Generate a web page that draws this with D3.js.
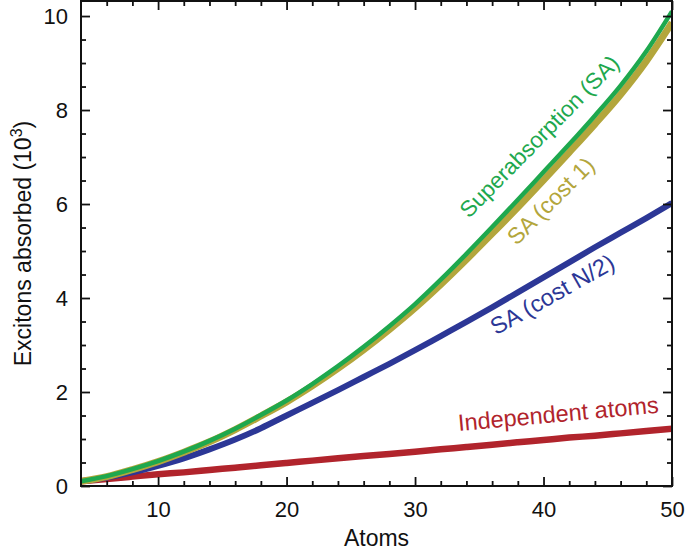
<!DOCTYPE html>
<html>
<head>
<meta charset="utf-8">
<script src="https://cdn.jsdelivr.net/npm/d3@7"></script>
<style>
  body { margin: 0; background: #fff; }
  svg { display: block; font-family: "Liberation Sans", Arial, Helvetica, sans-serif; }
</style>
</head>
<body>
<svg id="chart"></svg>
<script>
// values (excitons absorbed, in units of 10^3)
const atoms = [4, 6, 8, 10, 12, 14, 16, 18, 20, 22, 24, 26, 28, 30, 32, 34, 36, 38, 40, 42, 44, 46, 48, 50];
const superabsorption = [0.10, 0.21, 0.36, 0.53, 0.73, 0.96, 1.22, 1.51, 1.82, 2.17, 2.55, 2.96, 3.40, 3.87, 4.39, 4.94, 5.51, 6.09, 6.68, 7.27, 7.88, 8.52, 9.25, 10.10];
const saCost1 = [0.10, 0.20, 0.35, 0.52, 0.72, 0.94, 1.20, 1.49, 1.79, 2.13, 2.50, 2.90, 3.33, 3.79, 4.29, 4.82, 5.37, 5.93, 6.51, 7.10, 7.70, 8.33, 9.04, 9.86];
const saCostHalfN = [0.10, 0.18, 0.29, 0.43, 0.59, 0.78, 0.99, 1.23, 1.50, 1.77, 2.04, 2.32, 2.60, 2.89, 3.19, 3.49, 3.80, 4.12, 4.44, 4.76, 5.08, 5.39, 5.70, 6.02];
const independent = [0.10, 0.15, 0.20, 0.25, 0.29, 0.34, 0.39, 0.44, 0.49, 0.54, 0.59, 0.64, 0.68, 0.73, 0.78, 0.83, 0.88, 0.93, 0.98, 1.03, 1.07, 1.12, 1.17, 1.22];

const xMajorTicks = [10, 20, 30, 40, 50];
const yMajorTicks = [0, 2, 4, 6, 8, 10];

// drawing order: olive under green
const series = [
  { name: "Independent atoms", values: independent, color: "#b1242c", width: 6.5,
    label: { n: 33.4, v: 1.17, angle: -5.2, size: 23.5 } },
  { name: "SA (cost N/2)", values: saCostHalfN, color: "#2c3796", width: 6,
    label: { n: 36.3, v: 3.2, angle: -29.5, size: 23.5 } },
  { name: "SA (cost 1)", values: saCost1, color: "#b3a63c", width: 7,
    label: { n: 37.9, v: 5.1, angle: -45, size: 23 } },
  { name: "Superabsorption (SA)", values: superabsorption, color: "#1ea84e", width: 4.5,
    label: { n: 34.2, v: 5.68, angle: -45.5, size: 22.5 } }
];

const width = 685, height = 553;
const margin = { top: 1, right: 13, bottom: 67, left: 81 };

const svg = d3.select('#chart').attr('width', width).attr('height', height);

const x = d3.scaleLinear().domain([4, 50]).range([margin.left, width - margin.right]);
const y = d3.scaleLinear().domain([0, 10.32]).range([height - margin.bottom, margin.top]);

const x0 = x.range()[0], x1 = x.range()[1];
const y0 = y.range()[0], y1 = y.range()[1];

// curves
const line = d3.line()
  .x((d, i) => x(atoms[i]))
  .y(d => y(d))
  .curve(d3.curveMonotoneX);

const plot = svg.append('g');
plot.append('clipPath').attr('id', 'clip')
  .append('rect').attr('x', x0).attr('y', y1).attr('width', x1 - x0).attr('height', y0 - y1);

plot.selectAll('path.series')
  .data(series)
  .join('path')
  .attr('class', 'series')
  .attr('clip-path', 'url(#clip)')
  .attr('fill', 'none')
  .attr('stroke', d => d.color)
  .attr('stroke-width', d => d.width)
  .attr('d', d => line(d.values));

// inline labels
svg.selectAll('text.label')
  .data(series)
  .join('text')
  .attr('class', 'label')
  .attr('transform', d => `translate(${x(d.label.n)},${y(d.label.v)}) rotate(${d.label.angle})`)
  .attr('fill', d => d.color)
  .attr('font-size', d => d.label.size)
  .text(d => d.name);

// axes: ticks inward on all four sides
const xMinor = d3.range(6, 50, 2).filter(v => v % 10 !== 0);
const yMinor = d3.range(0.5, 10.01, 0.5).filter(v => v % 2 !== 0);

const axBottom = d3.axisBottom(x).tickValues(xMajorTicks).tickSize(-9).tickPadding(15).tickFormat(d3.format('d'));
const axTop = d3.axisTop(x).tickValues(xMajorTicks).tickSize(-9).tickFormat('');
const axLeft = d3.axisLeft(y).tickValues(yMajorTicks).tickSize(-9).tickPadding(13).tickFormat(d3.format('d'));
const axRight = d3.axisRight(y).tickValues(yMajorTicks).tickSize(-9).tickFormat('');

function style(g) {
  g.select('.domain').remove();
  g.selectAll('line').attr('stroke', '#111').attr('stroke-width', 1.8);
  g.selectAll('text').attr('fill', '#111').attr('font-size', 22).attr('font-family', null);
}

svg.append('g').attr('transform', `translate(0,${y0})`).call(axBottom).call(style);
svg.append('g').attr('transform', `translate(0,${y1})`).call(axTop).call(style);
svg.append('g').attr('transform', `translate(${x0},0)`).call(axLeft).call(style);
svg.append('g').attr('transform', `translate(${x1},0)`).call(axRight).call(style);

const minorX = d3.axisBottom(x).tickValues(xMinor).tickSize(-5).tickFormat('');
const minorXTop = d3.axisTop(x).tickValues(xMinor).tickSize(-5).tickFormat('');
const minorY = d3.axisLeft(y).tickValues(yMinor).tickSize(-5).tickFormat('');
const minorYRight = d3.axisRight(y).tickValues(yMinor).tickSize(-5).tickFormat('');
svg.append('g').attr('transform', `translate(0,${y0})`).call(minorX).call(style);
svg.append('g').attr('transform', `translate(0,${y1})`).call(minorXTop).call(style);
svg.append('g').attr('transform', `translate(${x0},0)`).call(minorY).call(style);
svg.append('g').attr('transform', `translate(${x1},0)`).call(minorYRight).call(style);

// frame
svg.append('rect')
  .attr('x', x0).attr('y', y1)
  .attr('width', x1 - x0).attr('height', y0 - y1)
  .attr('fill', 'none').attr('stroke', '#111').attr('stroke-width', 2);

// axis titles
svg.append('text')
  .attr('x', (x0 + x1) / 2).attr('y', 546)
  .attr('text-anchor', 'middle')
  .attr('font-size', 23)
  .attr('fill', '#111')
  .text('Atoms');

const yTitle = svg.append('text')
  .attr('transform', `translate(31,${(y0 + y1) / 2}) rotate(-90)`)
  .attr('text-anchor', 'middle')
  .attr('font-size', 23)
  .attr('fill', '#111');
yTitle.append('tspan').text('Excitons absorbed (10');
yTitle.append('tspan').attr('dy', -9).attr('font-size', 16).text('3');
yTitle.append('tspan').attr('dy', 9).text(')');
</script>
</body>
</html>
